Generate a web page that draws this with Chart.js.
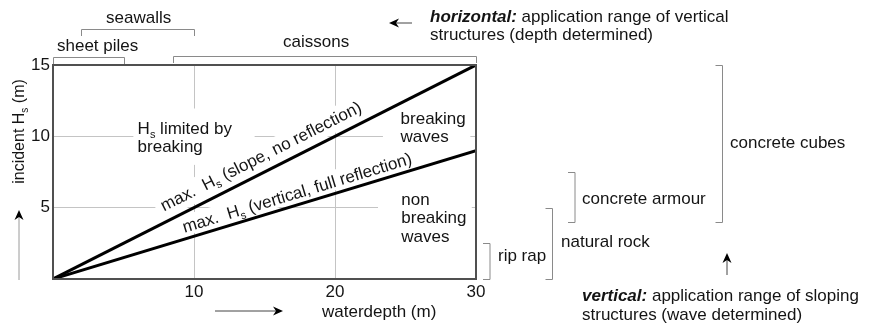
<!DOCTYPE html>
<html>
<head>
<meta charset="utf-8">
<script src="https://cdn.jsdelivr.net/npm/chart.js@4.4.1/dist/chart.umd.min.js"></script>
<style>
  html, body { margin: 0; padding: 0; background: #fff; }
  canvas { display: block; }
</style>
</head>
<body>
<canvas id="rangeChart" width="881" height="323"></canvas>
<script>
// max. wave height against water depth (m)
const depthPoints = [0, 30];
const hsSlopeLimit = [0, 15];     // slope, no reflection
const hsVerticalLimit = [0, 9];   // vertical, full reflection
const depthTicks = [10, 20, 30];
const hsTicks = [5, 10, 15];

// vertical structures: water depth range (m)
const structureNames = ['sheet piles', 'seawalls', 'caissons'];
const structureDepthFrom = [0, 2, 8.5];
const structureDepthTo = [5, 10, 30];

// sloping structures: wave height range (m)
const armourNames = ['rip rap', 'natural rock', 'concrete armour', 'concrete cubes'];
const armourHsFrom = [0, 0, 4, 4];
const armourHsTo = [2.5, 5, 7.5, 15];

// where the range brackets sit outside the plot
const structureBracketY = [57.5, 29.5, 56.5];
const structureLabelPos = [[57, 51], [106, 23], [283, 47]];
const armourBracketX = [490, 552.5, 575, 722.5];
const armourLabelPos = [[498, 261], [561, 247], [582, 204], [730, 148]];

const FONT = '"Liberation Sans", Arial, sans-serif';
const INK = '#141414';
const SIZE = 17;

// draws a run of text pieces (plain / subscript / bold italic), returns width
function richText(ctx, parts, x, y, size, measureOnly) {
  let cx = x;
  for (const p of parts) {
    const fs = p.sub ? Math.round(size * 0.62) : size;
    ctx.font = (p.bold ? 'italic bold ' : '') + fs + 'px ' + FONT;
    if (!measureOnly) ctx.fillText(p.t, cx, y + (p.sub ? size * 0.22 : 0));
    cx += ctx.measureText(p.t).width;
  }
  return cx - x;
}

function arrow(ctx, x0, y0, x1, y1, shaft) {
  const a = Math.atan2(y1 - y0, x1 - x0);
  ctx.save();
  ctx.strokeStyle = shaft;
  ctx.lineWidth = 1;
  ctx.beginPath();
  ctx.moveTo(x0, y0);
  ctx.lineTo(x1 - 6 * Math.cos(a), y1 - 6 * Math.sin(a));
  ctx.stroke();
  ctx.translate(x1, y1);
  ctx.rotate(a);
  ctx.fillStyle = '#000';
  ctx.beginPath();
  ctx.moveTo(0, 0);
  ctx.lineTo(-10, -4.5);
  ctx.lineTo(-7, 0);
  ctx.lineTo(-10, 4.5);
  ctx.closePath();
  ctx.fill();
  ctx.restore();
}

function lineAt(values, depth) {
  return values[0] + (values[1] - values[0]) * (depth - depthPoints[0]) / (depthPoints[1] - depthPoints[0]);
}

// text written along one of the limit lines, on a white strip
function slantLabel(ctx, chart, values, startDepth, offset, parts, boxOnly) {
  const xs = chart.scales.x, ys = chart.scales.y;
  const ang = Math.atan2(
    ys.getPixelForValue(values[1]) - ys.getPixelForValue(values[0]),
    xs.getPixelForValue(depthPoints[1]) - xs.getPixelForValue(depthPoints[0]));
  ctx.save();
  ctx.translate(xs.getPixelForValue(startDepth), ys.getPixelForValue(lineAt(values, startDepth)));
  ctx.rotate(ang);
  const w = richText(ctx, parts, 0, 0, SIZE, true);
  if (boxOnly) {
    ctx.fillStyle = '#fff';
    ctx.fillRect(-6, -offset - 17, w + 12, offset + 14);
  } else {
    ctx.fillStyle = INK;
    ctx.textBaseline = 'alphabetic';
    richText(ctx, parts, 0, -offset, SIZE);
  }
  ctx.restore();
}

const slopeText = [{ t: 'max.  H' }, { t: 's', sub: true }, { t: ' (slope, no reflection)' }];
const verticalText = [{ t: 'max.  H' }, { t: 's', sub: true }, { t: ' (vertical, full reflection)' }];

// white panels behind the region notes (depth from/to, Hs from/to)
const notePanels = [[5.7, 14.3, 8.0, 11.95], [23.4, 29.6, 9.1, 12.4], [23.05, 29.7, 1.85, 7.46]];

const annotations = {
  id: 'annotations',
  beforeDatasetsDraw(chart) {
    const ctx = chart.ctx, xs = chart.scales.x, ys = chart.scales.y;
    ctx.save();
    ctx.fillStyle = '#fff';
    for (const [a, b, c, d] of notePanels) {
      const l = xs.getPixelForValue(a), r = xs.getPixelForValue(b);
      const t = ys.getPixelForValue(d), btm = ys.getPixelForValue(c);
      ctx.fillRect(l, t, r - l, btm - t);
    }
    ctx.restore();
    slantLabel(ctx, chart, hsSlopeLimit, 8.2, 10, slopeText, true);
    slantLabel(ctx, chart, hsVerticalLimit, 9.45, 6, verticalText, true);
  },
  afterDatasetsDraw(chart) {
    const ctx = chart.ctx, xs = chart.scales.x, ys = chart.scales.y;
    const area = chart.chartArea;
    ctx.save();

    // plot frame
    ctx.strokeStyle = '#505050';
    ctx.lineWidth = 2;
    ctx.strokeRect(area.left, area.top, area.right - area.left, area.bottom - area.top);

    ctx.fillStyle = INK;
    ctx.textBaseline = 'alphabetic';
    ctx.textAlign = 'left';

    // notes inside the plot
    const nx = xs.getPixelForValue(6.0);
    richText(ctx, [{ t: 'H' }, { t: 's', sub: true }, { t: ' limited by' }], nx, 134, SIZE);
    richText(ctx, [{ t: 'breaking' }], nx, 152, SIZE);
    const bx = xs.getPixelForValue(24.65);
    ['breaking', 'waves'].forEach((s, i) => richText(ctx, [{ t: s }], bx, 123.5 + i * 18, SIZE));
    const nb = xs.getPixelForValue(24.7);
    ['non', 'breaking', 'waves'].forEach((s, i) => richText(ctx, [{ t: s }], nb, 205 + i * 18.4, SIZE));

    slantLabel(ctx, chart, hsSlopeLimit, 8.2, 10, slopeText, false);
    slantLabel(ctx, chart, hsVerticalLimit, 9.45, 6, verticalText, false);

    // depth range brackets above the plot
    ctx.strokeStyle = '#8a8a8a';
    ctx.lineWidth = 1;
    structureNames.forEach((name, i) => {
      const y = structureBracketY[i];
      const l = Math.round(xs.getPixelForValue(structureDepthFrom[i])) + 0.5;
      const r = Math.round(xs.getPixelForValue(structureDepthTo[i])) + 0.5;
      ctx.beginPath();
      ctx.moveTo(l, y + 6.5);
      ctx.lineTo(l, y);
      ctx.lineTo(r, y);
      ctx.lineTo(r, y + 6.5);
      ctx.stroke();
      richText(ctx, [{ t: name }], structureLabelPos[i][0], structureLabelPos[i][1], SIZE);
    });

    // wave height range brackets right of the plot
    armourNames.forEach((name, i) => {
      const x = armourBracketX[i];
      const t = Math.round(ys.getPixelForValue(armourHsTo[i])) + 0.5;
      const b = Math.round(ys.getPixelForValue(armourHsFrom[i])) + 0.5;
      ctx.beginPath();
      ctx.moveTo(x - 7, t);
      ctx.lineTo(x, t);
      ctx.lineTo(x, b);
      ctx.lineTo(x - 7, b);
      ctx.stroke();
      richText(ctx, [{ t: name }], armourLabelPos[i][0], armourLabelPos[i][1], SIZE);
    });

    // axis titles with arrows
    ctx.save();
    ctx.translate(24, 131.5);
    ctx.rotate(-Math.PI / 2);
    const yTitle = [{ t: 'incident H' }, { t: 's', sub: true }, { t: ' (m)' }];
    const tw = richText(ctx, yTitle, 0, 0, 16, true);
    richText(ctx, yTitle, -tw / 2, 0, 16);
    ctx.restore();
    arrow(ctx, 19, 280, 19, 210, '#9a9a9a');

    richText(ctx, [{ t: 'waterdepth (m)' }], 322, 317, SIZE);
    arrow(ctx, 215, 311, 283, 311, '#444');

    // reading directions
    richText(ctx, [{ t: 'horizontal:', bold: true }, { t: ' application range of vertical' }], 430, 21.5, SIZE);
    richText(ctx, [{ t: 'structures (depth determined)' }], 430, 39.5, SIZE);
    arrow(ctx, 412, 23, 389, 23, '#444');

    richText(ctx, [{ t: 'vertical:', bold: true }, { t: ' application range of sloping' }], 582, 300.5, SIZE);
    richText(ctx, [{ t: 'structures (wave determined)' }], 582, 319.5, SIZE);
    arrow(ctx, 727, 275, 727, 253, '#444');

    ctx.restore();
  }
};

const gridColor = (c) => (c.tick && c.tick.value > 0 && c.tick.value < 30 && !(c.scale.axis === 'y' && c.tick.value >= 15)) ? '#c4c4c4' : 'rgba(0,0,0,0)';

new Chart(document.getElementById('rangeChart'), {
  type: 'scatter',
  data: {
    datasets: [
      {
        label: 'max. Hs (slope, no reflection)',
        data: depthPoints.map((d, i) => ({ x: d, y: hsSlopeLimit[i] })),
        showLine: true,
        borderColor: '#000',
        borderWidth: 3,
        pointRadius: 0
      },
      {
        label: 'max. Hs (vertical, full reflection)',
        data: depthPoints.map((d, i) => ({ x: d, y: hsVerticalLimit[i] })),
        showLine: true,
        borderColor: '#000',
        borderWidth: 3,
        pointRadius: 0
      }
    ]
  },
  options: {
    responsive: false,
    animation: false,
    events: [],
    layout: { padding: { left: 0, top: 65, right: 405, bottom: 0 } },
    plugins: { legend: { display: false }, tooltip: { enabled: false } },
    scales: {
      x: {
        type: 'linear',
        min: 0,
        max: 30,
        afterBuildTicks: (s) => { s.ticks = depthTicks.map(v => ({ value: v })); },
        afterFit: (s) => { s.height = 44; },
        ticks: { color: INK, padding: 3, font: { family: FONT, size: SIZE } },
        grid: { color: gridColor, lineWidth: 1, drawTicks: false },
        border: { display: false }
      },
      y: {
        type: 'linear',
        min: 0,
        max: 15,
        afterBuildTicks: (s) => { s.ticks = hsTicks.map(v => ({ value: v })); },
        afterFit: (s) => { s.width = 53; },
        ticks: { color: INK, padding: 3, font: { family: FONT, size: SIZE } },
        grid: { color: gridColor, lineWidth: 1, drawTicks: false },
        border: { display: false }
      }
    }
  },
  plugins: [annotations]
});
</script>
</body>
</html>
